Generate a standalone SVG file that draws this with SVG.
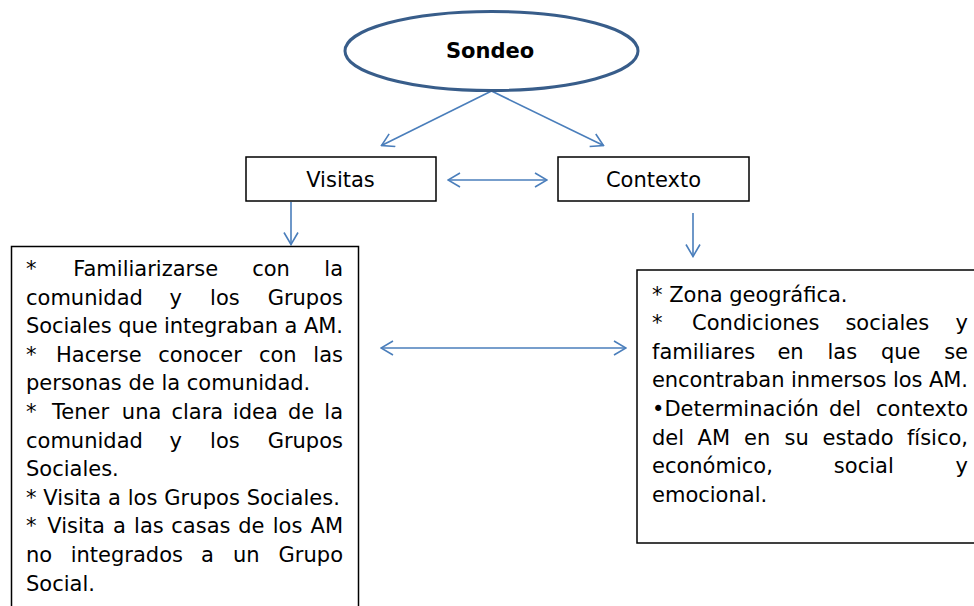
<svg xmlns="http://www.w3.org/2000/svg" width="974" height="606" viewBox="0 0 974 606">
<defs>
<style>
.t{font-family:"DejaVu Sans","Noto Sans",sans-serif;font-size:21px;fill:#000}
.m{text-anchor:middle}
.e{text-anchor:end}
.b{font-weight:bold}
.box{fill:#fff;stroke:#000;stroke-width:1.5}
.c{fill:none;stroke:#4a7ebb;stroke-width:1.6}
</style>
<marker id="ah" viewBox="0 0 14 16" refX="13" refY="8" markerWidth="14" markerHeight="16" markerUnits="userSpaceOnUse" orient="auto-start-reverse">
<path d="M1,1 L13,8 L1,15" fill="none" stroke="#4a7ebb" stroke-width="1.6"/>
</marker>
</defs>
<rect width="974" height="606" fill="#fff"/>

<g id="connectors">
<path class="c" d="M491.5,91 L381.5,145.5" marker-end="url(#ah)"/>
<path class="c" d="M491.5,91 L603.5,145.5" marker-end="url(#ah)"/>
<path class="c" d="M448,180 L547,180" marker-start="url(#ah)" marker-end="url(#ah)"/>
<path class="c" d="M291,202 L291,244.5" marker-end="url(#ah)"/>
<path class="c" d="M693,213 L693,256.5" marker-end="url(#ah)"/>
<path class="c" d="M381,348 L626,348" marker-start="url(#ah)" marker-end="url(#ah)"/>
</g>

<g id="sondeo">
<ellipse cx="491.5" cy="51" rx="146.5" ry="39.5" fill="#fff" stroke="#385d8a" stroke-width="3"/>
<text class="t m b" x="490" y="58" font-size="20.5">Sondeo</text>
</g>

<g id="visitas">
<rect class="box" x="246" y="157" width="190" height="44"/>
<text class="t m" x="340.5" y="187">Visitas</text>
</g>

<g id="contexto">
<rect class="box" x="558" y="157" width="191" height="44"/>
<text class="t m" x="653.5" y="187">Contexto</text>
</g>

<g id="visitas-detalle">
<rect class="box" x="11.5" y="246.5" width="347" height="370"/>
<text class="t" x="26" y="276">*</text>
<text class="t m" x="145.7" y="276">Familiarizarse</text>
<text class="t m" x="271" y="276">con</text>
<text class="t e" x="343" y="276">la</text>

<text class="t" x="26" y="304.6">comunidad</text>
<text class="t m" x="175.8" y="304.6">y</text>
<text class="t m" x="224.9" y="304.6">los</text>
<text class="t e" x="343" y="304.6">Grupos</text>

<text class="t" x="26" y="333.2" textLength="317" lengthAdjust="spacing">Sociales que integraban a AM.</text>

<text class="t" x="26" y="361.8">*</text>
<text class="t m" x="98.9" y="361.8">Hacerse</text>
<text class="t m" x="200" y="361.8">conocer</text>
<text class="t m" x="277.8" y="361.8">con</text>
<text class="t e" x="343" y="361.8">las</text>

<text class="t" x="26" y="390.4">personas de la comunidad.</text>

<text class="t" x="26" y="419">*</text>
<text class="t m" x="80.5" y="419">Tener</text>
<text class="t m" x="141.6" y="419">una</text>
<text class="t m" x="197.3" y="419">clara</text>
<text class="t m" x="255.3" y="419">idea</text>
<text class="t m" x="301.1" y="419">de</text>
<text class="t e" x="343" y="419">la</text>

<text class="t" x="26" y="447.6">comunidad</text>
<text class="t m" x="175.8" y="447.6">y</text>
<text class="t m" x="224.9" y="447.6">los</text>
<text class="t e" x="343" y="447.6">Grupos</text>

<text class="t" x="26" y="476.2">Sociales.</text>

<text class="t" x="26" y="504.8" textLength="314" lengthAdjust="spacing">* Visita a los Grupos Sociales.</text>

<text class="t" x="26" y="533.4">*</text>
<text class="t m" x="76.1" y="533.4">Visita</text>
<text class="t m" x="119.5" y="533.4">a</text>
<text class="t m" x="148.9" y="533.4">las</text>
<text class="t m" x="200.9" y="533.4">casas</text>
<text class="t m" x="251.3" y="533.4">de</text>
<text class="t m" x="287.6" y="533.4">los</text>
<text class="t e" x="343" y="533.4">AM</text>

<text class="t" x="26" y="562">no</text>
<text class="t m" x="126.8" y="562">integrados</text>
<text class="t m" x="207.5" y="562">a</text>
<text class="t m" x="246.3" y="562">un</text>
<text class="t e" x="343" y="562">Grupo</text>

<text class="t" x="26" y="590.6">Social.</text>
</g>

<g id="contexto-detalle">
<rect class="box" x="637" y="270" width="345" height="273"/>
<text class="t" x="652" y="301.5">* Zona geográfica.</text>

<text class="t" x="652" y="330.1">*</text>
<text class="t m" x="755.8" y="330.1">Condiciones</text>
<text class="t m" x="887.3" y="330.1">sociales</text>
<text class="t e" x="968" y="330.1">y</text>

<text class="t" x="652" y="358.7">familiares</text>
<text class="t m" x="790.5" y="358.7">en</text>
<text class="t m" x="842.3" y="358.7">las</text>
<text class="t m" x="900.7" y="358.7">que</text>
<text class="t e" x="968" y="358.7">se</text>

<text class="t" x="652" y="387.3" textLength="316" lengthAdjust="spacing">encontraban inmersos los AM.</text>

<text class="t" x="652" y="415.9">•Determinación</text>
<text class="t m" x="845" y="415.9">del</text>
<text class="t e" x="968" y="415.9">contexto</text>

<text class="t" x="652" y="444.5">del</text>
<text class="t m" x="713.8" y="444.5">AM</text>
<text class="t m" x="757.2" y="444.5">en</text>
<text class="t m" x="796.6" y="444.5">su</text>
<text class="t m" x="858.1" y="444.5">estado</text>
<text class="t e" x="968" y="444.5">físico,</text>

<text class="t" x="652" y="473.1">económico,</text>
<text class="t m" x="863.8" y="473.1">social</text>
<text class="t e" x="968" y="473.1">y</text>

<text class="t" x="652" y="501.7">emocional.</text>
</g>
</svg>
